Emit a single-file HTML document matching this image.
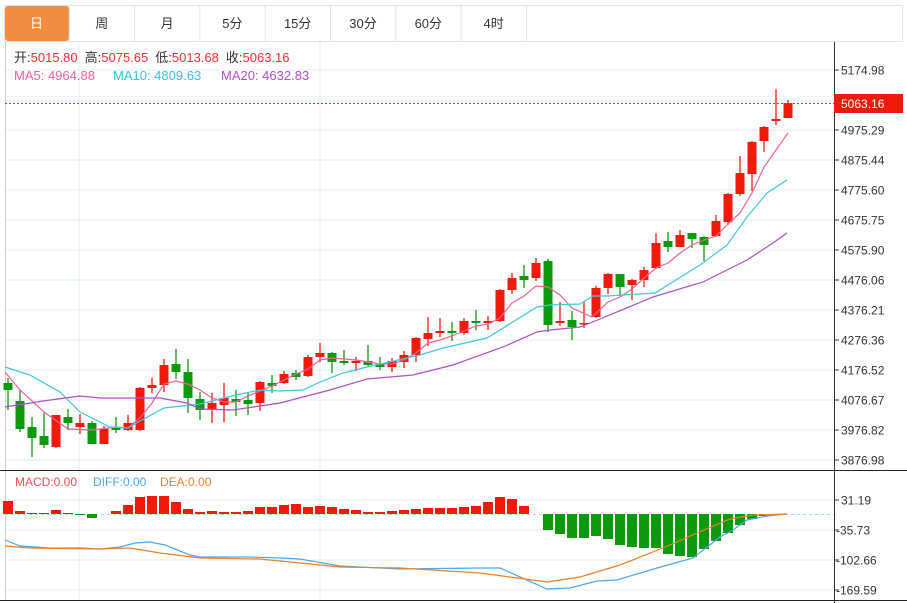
<!DOCTYPE html>
<html><head><meta charset="utf-8"><style>
body{margin:0;background:#fff;width:907px;height:603px;overflow:hidden;font-family:"Liberation Sans","Noto Sans CJK SC",sans-serif}
svg{position:absolute;left:0;top:0}
</style></head><body>
<svg id="s" width="907" height="603" xmlns="http://www.w3.org/2000/svg" font-family="Liberation Sans, Noto Sans CJK SC, sans-serif"></svg>
<script>
const s=document.getElementById('s');let h='';
// tabs
h+='<rect x="4.5" y="5.5" width="898" height="36" fill="#fff" stroke="#dde3ea"/>';
h+='<rect x="5" y="6" width="64" height="35" rx="3" fill="#f28c3f"/>';
const tabs=['日','周','月','5分','15分','30分','60分','4时'];
for(let i=0;i<8;i++){let x=4+i*65.3;if(i>0)h+=`<line x1="${x.toFixed(1)}" y1="6" x2="${x.toFixed(1)}" y2="41" stroke="#dde3ea"/>`;
h+=`<text x="${x+32.5}" y="28" font-size="13" text-anchor="middle" fill="${i==0?'#fff':'#333'}">${tabs[i]}</text>`;}
h+=`<line x1="526.5" y1="6" x2="526.5" y2="41" stroke="#dde3ea"/>`;
// grids
const gy=[70,100,130,160,190,220,250,280,310,340,370,400,430,460];
gy.forEach(y=>h+=`<line x1="5" y1="${y}" x2="834" y2="${y}" stroke="#e3ecf3"/>`);
[500,530,560,590].forEach(y=>h+=`<line x1="5" y1="${y}" x2="834" y2="${y}" stroke="#e3ecf3"/>`);
[79,320].forEach(x=>h+=`<line x1="${x}" y1="42" x2="${x}" y2="600" stroke="#e3ecf3"/>`);
h+='<line x1="5.5" y1="42" x2="5.5" y2="600" stroke="#ccc"/>';
h+='<line x1="834.5" y1="42" x2="834.5" y2="603" stroke="#333"/>';
h+='<line x1="0" y1="470.5" x2="907" y2="470.5" stroke="#222"/>';
h+='<line x1="0" y1="600.5" x2="907" y2="600.5" stroke="#222"/>';
// axis labels
const lab=[[70,'5174.98'],[130,'4975.29'],[160,'4875.44'],[190,'4775.60'],[220,'4675.75'],[250,'4575.90'],[280,'4476.06'],[310,'4376.21'],[340,'4276.36'],[370,'4176.52'],[400,'4076.67'],[430,'3976.82'],[460,'3876.98'],[500,'31.19'],[530,'-35.73'],[560,'-102.66'],[590,'-169.59']];
lab.forEach(([y,t])=>{h+=`<line x1="834" y1="${y}" x2="839" y2="${y}" stroke="#333"/><text x="${t[0]=='-'?836:841}" y="${y+4.5}" font-size="12" fill="#333">${t}</text>`});
// candles [o,c,hi,lo] pixel y
const C=[[383,390,378,410],[401,429,390,432],[427,438,417,457],[436,445,413,448],[447,415,415,448],[417,423,409,430],[427,423,414,434],[423,444,421,444],[444,429,426,444],[428,430,417,433],[430,423,415,431],[430,388,387,431],[388,385,378,393],[385,365,359,392],[364,372,349,379],[372,398,359,413],[399,410,392,420],[409,403,393,423],[405,398,383,422],[399,402,390,416],[400,404,392,415],[403,382,381,411],[383,386,375,393],[383,374,371,384],[373,377,370,380],[376,357,355,377],[357,353,343,362],[353,362,352,373],[361,363,350,365],[363,361,357,371],[361,365,345,366],[364,367,357,370],[367,361,358,372],[362,355,351,368],[355,338,337,362],[339,333,317,346],[333,331,318,337],[331,333,322,341],[333,321,318,335],[321,323,310,330],[323,321,316,330],[321,290,289,322],[290,278,273,294],[276,280,265,288],[278,263,258,281],[261,325,259,332],[323,321,302,326],[320,327,311,340],[324,323,302,328],[317,288,286,318],[288,274,273,294],[274,287,274,296],[285,280,279,300],[280,270,267,287],[268,243,233,269],[241,247,232,252],[247,235,230,247],[233,239,233,248],[237,245,236,261],[236,221,215,237],[222,194,193,225],[194,173,156,196],[174,142,141,191],[141,127,126,152],[121,119,89,125],[118,103,100,118]];
C.forEach((c,i)=>{const x=8+12*i,[o,cl,hi,lo]=c;const up=cl<o;const col=up?'#f01a0a':'#0b9a0b';const t=Math.min(o,cl),b=Math.max(Math.max(o,cl),t+1.5);
h+=`<line x1="${x}" y1="${hi}" x2="${x}" y2="${lo}" stroke="${col}" stroke-width="1.3"/><rect x="${x-4.5}" y="${t}" width="9" height="${b-t}" fill="${col}"/>`});
function pl(p,c){h+=`<polyline points="${p.map(q=>q.join(',')).join(' ')}" fill="none" stroke="${c}" stroke-width="1.2"/>`}
pl([[5,372],[20,390],[44,412],[68,429],[92,430],[116,427],[128,428],[140,418],[152,403],[164,384],[176,381],[188,384],[200,390],[212,398],[224,402],[236,402],[248,396],[260,391],[272,386],[284,380],[296,374],[308,369],[320,360],[332,358],[344,359],[356,360],[368,362],[380,364],[392,364],[404,360],[416,353],[428,343],[440,340],[452,336],[464,331],[476,326],[488,324],[500,318],[512,303],[524,296],[536,286],[548,287],[560,295],[572,308],[592,317],[608,302],[620,297],[632,289],[644,278],[656,268],[668,263],[680,253],[692,245],[704,240],[716,236],[728,224],[740,213],[752,193],[764,167],[776,150],[788,133]],'#f0609a');
pl([[5,367],[30,375],[60,392],[80,412],[110,427],[128,428],[140,421],[164,408],[200,404],[236,395],[260,390],[280,391],[303,390],[320,382],[343,373],[367,367],[420,355],[443,348],[487,338],[537,307],[550,305],[580,304],[593,296],[607,296],[655,293],[700,265],[727,245],[747,217],[767,193],[787,180]],'#3cc8e0');
pl([[5,407],[43,401],[80,396],[100,398],[160,398],[187,403],[200,409],[233,410],[280,403],[330,390],[367,379],[413,375],[453,365],[503,347],[537,332],[550,330],[580,327],[600,319],[653,297],[703,282],[747,260],[773,243],[787,233]],'#b050c8');
// current price
h+='<line x1="5" y1="103.5" x2="834" y2="103.5" stroke="#f03030" stroke-dasharray="2,2"/>';
h+='<rect x="834" y="94" width="69" height="19" fill="#f01a0a"/><text x="841" y="108" font-size="12" fill="#fff">5063.16</text>';
// info
h+='<text x="14" y="62" font-size="13"><tspan fill="#333">开:</tspan><tspan fill="#f03030">5015.80</tspan><tspan fill="#333" dx="7">高:</tspan><tspan fill="#f03030">5075.65</tspan><tspan fill="#333" dx="7">低:</tspan><tspan fill="#f03030">5013.68</tspan><tspan fill="#333" dx="7">收:</tspan><tspan fill="#f03030">5063.16</tspan></text>';
h+='<text x="14" y="80" font-size="13" fill="#f0609a">MA5: 4964.88</text><text x="113" y="80" font-size="13" fill="#33c3dc">MA10: 4809.63</text><text x="221" y="80" font-size="13" fill="#b050c8">MA20: 4632.83</text>';
// MACD
h+='<line x1="5" y1="514.5" x2="834" y2="514.5" stroke="#a8d8ea" stroke-dasharray="3,3"/>';
const M=[501,511,513,513,510,513,515,518,514,511,505,497,496,496,502,509,512,511,512,512,511,507,507,505,504,507,506,507,509,510,512,512,511,510,509,508,508,508,507,506,502,497,499,506,514,530,534,538,538,536,539,545,547,548,548,554,556,557,549,541,533,525,519,516,515,514];
M.forEach((y,i)=>{const x=8+12*i;if(y==514)return;const col=y<514?'#f01a0a':'#0b9a0b';h+=`<rect x="${x-5}" y="${Math.min(y,514)}" width="10" height="${Math.abs(y-514)}" fill="${col}"/>`});
pl([[5,540],[20,546],[50,548],[80,548],[100,549],[120,547],[135,543],[150,542],[165,545],[190,555],[200,557],[250,557],[280,558],[300,559],[340,566],[400,569],[480,568],[500,568],[547,589],[570,588],[597,581],[617,580],[657,568],[693,558],[720,537],[733,530],[747,520],[767,516],[787,514]],'#4aa8f0');
pl([[5,546],[30,548],[100,549],[130,548],[160,553],[200,558],[260,559],[300,563],[340,567],[400,568],[480,573],[547,582],[580,577],[620,565],[663,548],[697,533],[730,519],[753,515],[787,514]],'#f08020');
h+='<text x="15" y="486" font-size="12" fill="#f05050">MACD:0.00</text><text x="93" y="486" font-size="12" fill="#4aa8f0">DIFF:0.00</text><text x="160" y="486" font-size="12" fill="#f08030">DEA:0.00</text>';
s.innerHTML=h;
</script>
</body></html>
